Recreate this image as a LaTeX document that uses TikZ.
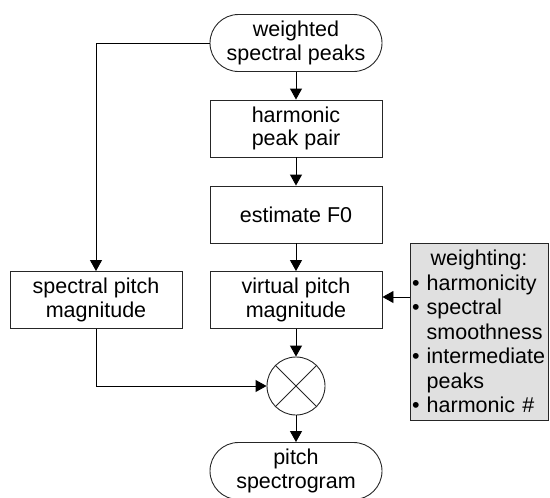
\documentclass[tikz,border=0pt]{standalone}
\usepackage{fontspec}
\setmainfont{Liberation Sans}
\usetikzlibrary{arrows.meta}
\begin{document}
\begin{tikzpicture}[x=1pt,y=-1pt,
  every node/.style={font=\fontsize{21.5}{23.5}\selectfont, inner sep=0pt},
  lin/.style={draw=black!85, line width=0.9pt},
  term/.style={lin, rounded corners=28.5pt, minimum width=172pt, minimum height=57pt, align=center},
  proc/.style={lin, minimum width=172pt, minimum height=57pt, align=center},
  arr/.style={draw=black, line width=0.9pt, -{Triangle[length=11pt,width=12pt]}}]
\useasboundingbox (0,0) rectangle (550,498);
\node[term] (top) at (296,43) {weighted\\spectral peaks};
\node[proc] (hp) at (296,128.5) {harmonic\\peak pair};
\node[proc] (f0) at (296,214.5) {estimate F0};
\node[proc] (vpm) at (296,300) {virtual pitch\\magnitude};
\node[proc] (spm) at (96,300) {spectral pitch\\magnitude};
\node[lin, circle, minimum size=58pt] (mul) at (296,386) {};
\draw[lin] (mul.north west) -- (mul.south east);
\draw[lin] (mul.north east) -- (mul.south west);
\node[term] (out) at (296,471) {pitch\\spectrogram};
\node[lin, fill=black!12, minimum width=138pt, minimum height=177pt,
      text width=134pt, align=left, font=\fontsize{21.5}{24.5}\selectfont] (w) at (479,331.5)
  {{\centering weighting:\par}%
   • harmonicity\\
   • spectral\\
   \phantom{• }smoothness\\
   • intermediate\\
   \phantom{• }peaks\\
   • harmonic \#};
\coordinate (win) at (410,297);
\draw[arr] (top) -- (hp);
\draw[arr] (hp) -- (f0);
\draw[arr] (f0) -- (vpm);
\draw[arr] (vpm) -- (mul);
\draw[arr] (mul) -- (out);
\draw[arr] (top.west) -| (spm.north);
\draw[arr] (spm.south) |- (mul.west);
\draw[arr] (win) -- (vpm.east |- win);
\end{tikzpicture}
\end{document}
